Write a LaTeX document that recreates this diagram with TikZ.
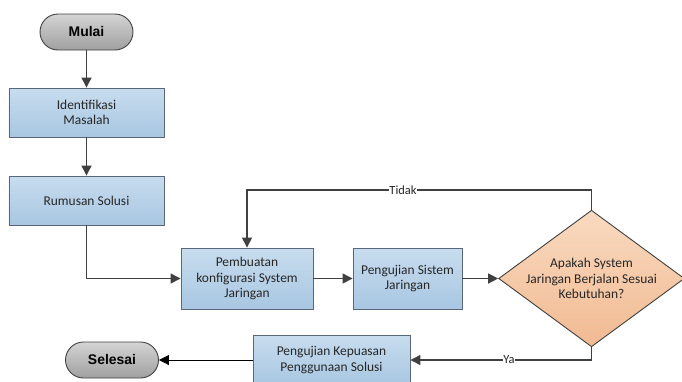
\documentclass[tikz,border=0pt]{standalone}
\usepackage{fontspec}
\setmainfont{Carlito}
\newfontfamily\termfont{Liberation Sans}
\usetikzlibrary{arrows.meta,shapes.geometric}
\definecolor{box_top}{RGB}{200, 220, 238}
\definecolor{box_bot}{RGB}{168, 199, 226}
\definecolor{box_line}{RGB}{88, 104, 120}
\definecolor{term_top}{RGB}{212, 212, 212}
\definecolor{term_bot}{RGB}{160, 160, 160}
\definecolor{dec_top}{RGB}{249, 218, 192}
\definecolor{dec_bot}{RGB}{241, 186, 146}
\definecolor{flow_gray}{RGB}{64, 64, 64}
\tikzstyle{proc}=[rectangle,top color=box_top,bottom color=box_bot,draw=box_line,
  line width=0.9pt,inner sep=2pt,align=center,text=black!85,
  font=\fontsize{13.5}{15.5}\selectfont]
\tikzstyle{term}=[rectangle,rounded corners=18bp,top color=term_top,bottom color=term_bot,
  draw=flow_gray,line width=0.9pt,minimum width=93bp,minimum height=36bp,
  font=\termfont\bfseries\fontsize{14}{15}\selectfont]
\tikzstyle{dec}=[diamond,top color=dec_top,bottom color=dec_bot,draw=flow_gray,
  line width=0.9pt,inner sep=0pt,minimum width=181bp,minimum height=133bp,aspect=1.36,
  align=center,text=black!85,font=\fontsize{13.5}{15.5}\selectfont]
\tikzstyle{flow}=[draw=flow_gray,line width=1.3pt,-{Triangle[length=10bp,width=10bp]}]
\tikzstyle{lbl}=[fill=white,inner sep=0.5pt,text=black!85,font=\fontsize{12.5}{13}\selectfont]
\tikzstyle{none}=[]

\begin{document}
\begin{tikzpicture}[x=1bp, y=-1bp]
    \useasboundingbox (0, 0) rectangle (682, 381);
    \node [style=term] (0) at (86.5, 32) {Mulai};
    \node [style=proc, minimum width=155bp, minimum height=49bp] (1) at (86.5, 112.5) {Identifikasi\\Masalah};
    \node [style=proc, minimum width=155bp, minimum height=49bp] (2) at (86.5, 200.5) {Rumusan Solusi};
    \node [style=proc, minimum width=132bp, minimum height=61bp] (3) at (247, 278.5) {Pembuatan\\konfigurasi System\\Jaringan};
    \node [style=proc, minimum width=109bp, minimum height=61bp] (4) at (407.5, 278.5) {Pengujian Sistem\\Jaringan};
    \node [style=dec] (5) at (591.5, 278.5) {Apakah System\\Jaringan Berjalan Sesuai\\Kebutuhan?};
    \node [style=proc, minimum width=157bp, minimum height=50bp] (6) at (331.5, 360) {Pengujian Kepuasan\\Penggunaan Solusi};
    \node [style=term] (7) at (112, 360) {Selesai};
    \node [style=none] (8) at (86.5, 278.5) {};
    \node [style=none] (9) at (591.5, 190) {};
    \node [style=none] (10) at (247, 190) {};
    \node [style=none] (11) at (591.5, 360) {};
    \node [style=lbl] (12) at (403, 190) {Tidak};
    \node [style=lbl] (13) at (509, 360) {Ya};
    \draw [style=flow] (0) to (1);
    \draw [style=flow] (1) to (2);
    \draw [style=flow] (2.south) to (8.center) to (3);
    \draw [style=flow] (3) to (4);
    \draw [style=flow] (4) to (5);
    \draw [draw=flow_gray, line width=1.3pt] (5.north) to (9.center) to (12);
    \draw [style=flow] (12) to (10.center) to (3.north);
    \draw [draw=flow_gray, line width=1.3pt] (5.south) to (11.center) to (13);
    \draw [style=flow] (13) to (6);
    \draw [draw=black, line width=0.9pt, -{Triangle[length=10bp,width=10bp]}] (6) to (7);
\end{tikzpicture}
\end{document}
